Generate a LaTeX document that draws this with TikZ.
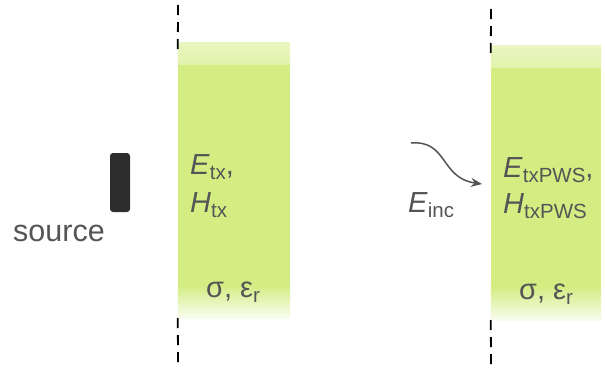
\documentclass[tikz,border=0pt]{standalone}
\usepackage{fontspec}
\setmainfont{Liberation Sans}
\usetikzlibrary{arrows.meta}

\definecolor{slab}{RGB}{211,237,131}
\definecolor{txt}{RGB}{85,85,85}
\definecolor{srcfill}{RGB}{45,45,45}

\newcommand{\lowsub}[1]{\raisebox{-5.5pt}{\fontsize{20.5}{20}\selectfont #1}}

\begin{document}
\begin{tikzpicture}[x=1pt, y=-1pt, >=Stealth,
	slabbox/.style={fill=slab, inner sep=0pt, minimum width=#1},
	lbl/.style={text=txt, inner sep=0pt, anchor=base west, font=\fontsize{29}{34}\selectfont},
	cut/.style={line width=1.8pt, dash pattern=on 10pt off 7pt}]
	
	\useasboundingbox (0,0) rectangle (605,367);
	
	% Slabs
	\node[slabbox=112pt, minimum height=275pt] (slabL) at (234,180.5) {};
	\node[slabbox=110pt, minimum height=274pt] (slabR) at (546,183) {};
	
	\shade[top color=slab!50!white, bottom color=slab!68!white] (slabL.north west) rectangle ([yshift=-22pt]slabL.north east);
	\shade[top color=slab, bottom color=slab!12!white] ([yshift=33pt]slabL.south west) rectangle (slabL.south east);
	\shade[top color=slab!50!white, bottom color=slab!68!white] (slabR.north west) rectangle ([yshift=-22pt]slabR.north east);
	\shade[top color=slab, bottom color=slab!12!white] ([yshift=33pt]slabR.south west) rectangle (slabR.south east);
	
	% Source
	\node[fill=srcfill, rounded corners=3pt, minimum width=20pt, minimum height=59pt, inner sep=0pt] (src) at (120,182.5) {};
	\node[lbl, font=\fontsize{30.5}{36}\selectfont] (srclbl) at (13,241) {source};
	
	% Labels
	\node[lbl] (etx) at (190,174) {\textit{E}\lowsub{tx},};
	\node[lbl] (htx) at (190,212) {\textit{H}\lowsub{tx}};
	\node[lbl] (matL) at (206,297) {σ, ε\lowsub{r}};
	
	\node[lbl] (epws) at (503,177) {\textit{E}\lowsub{txPWS},};
	\node[lbl] (hpws) at (503,213) {\textit{H}\lowsub{txPWS}};
	\node[lbl] (matR) at (519,299) {σ, ε\lowsub{r}};
	
	\node[lbl] (einc) at (408,212) {\textit{E}\lowsub{inc}};
	
	% Cut lines
	\coordinate (cutLtop) at (178,5);
	\coordinate (cutLbot) at (178,364);
	\coordinate (cutRtop) at (491,9);
	\coordinate (cutRbot) at (491,366);
	\draw[cut] (cutLtop) -- ([yshift=-7pt]slabL.north west);
	\draw[cut] (slabL.south west) -- (cutLbot);
	\draw[cut] (cutRtop) -- ([yshift=-7pt]slabR.north west);
	\draw[cut] (slabR.south west) -- (cutRbot);
	
	% Incident arrow
	\coordinate (incA) at (411,143);
	\coordinate (incB) at (482,184);
	\draw[-{Stealth[length=11pt, width=9pt]}, txt, line width=1.5pt] (incA) .. controls (448,140) and (440,178) .. (incB);
	
\end{tikzpicture}
\end{document}
